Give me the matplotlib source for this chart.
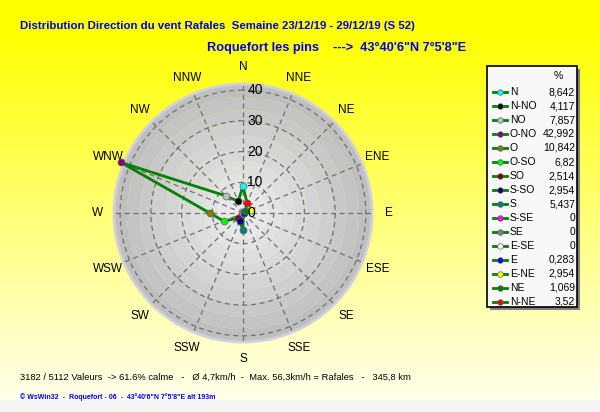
"""
Wind direction distribution (gusts), week 52 - Roquefort les pins.
Output: out.png (600x412)
"""
import numpy as np
import matplotlib
matplotlib.use("Agg")
import matplotlib.pyplot as plt
from matplotlib.patches import Rectangle
from matplotlib.lines import Line2D

# --- data -------------------------------------------------------------
directions = ["N", "N-NO", "NO", "O-NO", "O", "O-SO", "SO", "S-SO",
              "S", "S-SE", "SE", "E-SE", "E", "E-NE", "NE", "N-NE"]
percent = [8.642, 4.117, 7.857, 42.992, 10.842, 6.82, 2.514, 2.954,
           5.437, 0, 0, 0, 0.283, 2.954, 1.069, 3.52]
marker_colors = ["#00ffff", "#000000", "#c0c0c0", "#800080", "#808000",
                 "#00ff00", "#800000", "#000080", "#008080", "#ff00ff",
                 "#808080", "#ffffff", "#0000ff", "#ffff00", "#008000",
                 "#ff0000"]
compass_labels = ["N", "NNW", "NW", "WNW", "W", "WSW", "SW", "SSW",
                  "S", "SSE", "SE", "ESE", "E", "ENE", "NE", "NNE"]
ring_values = [0, 10, 20, 30, 40]

title = "Distribution Direction du vent Rafales  Semaine 23/12/19 - 29/12/19 (S 52)"
subtitle = "Roquefort les pins    --->  43°40'6\"N 7°5'8\"E"
summary = ("3182 / 5112 Valeurs  -> 61.6% calme   -   Ø 4,7km/h  -  "
           "Max. 56,3km/h = Rafales   -   345,8 km")
footer = "© WsWin32  -  Roquefort - 06  -  43°40'6\"N 7°5'8\"E alt 193m"

RMAX = 42.0
W, H = 600, 412

fig = plt.figure(figsize=(6.0, 4.12), dpi=100)
renderer = fig.canvas.get_renderer()


def fit_width(txt, target_px):
    # shrink/grow a text so it spans roughly the same width as the original
    w = txt.get_window_extent(renderer=renderer).width
    txt.set_fontsize(txt.get_fontsize() * target_px / w)


# background axes in pixel coordinates
bg = fig.add_axes([0, 0, 1, 1])
bg.set_xlim(0, W)
bg.set_ylim(H, 0)
bg.axis("off")

grad = np.ones((H, 1, 3))
yy = np.arange(H)
frac = np.clip((yy - 30) / 370.0, 0, 1)
grad[:, 0, 2] = frac * 0.93
grad[yy >= 400] = [0.957, 0.957, 0.957]
bg.imshow(grad, extent=(0, W, H, 0), aspect="auto", zorder=0)

t1 = bg.text(20, 26, title, color="#0000e6", fontsize=11, fontweight="bold",
             family="Liberation Sans", va="center")
fit_width(t1, 395)
t2 = bg.text(207, 48, subtitle, color="#0000e6", fontsize=11,
             fontweight="bold", family="Liberation Sans", va="center")
fit_width(t2, 261)
t3 = bg.text(20, 377, summary, color="black", fontsize=8.5,
             family="Liberation Sans", va="center")
fit_width(t3, 389)
t4 = bg.text(20, 397, footer, color="#0000ff", fontsize=6, fontweight="bold",
             family="Liberation Sans", va="center")
fit_width(t4, 197)

# legend box
bg.add_patch(Rectangle((490, 69), 90, 241, facecolor="#808080",
                       edgecolor="none", zorder=2))
bg.add_patch(Rectangle((487, 66), 90, 241, facecolor="#f8f8f8",
                       edgecolor="black", linewidth=1.2, zorder=3))
bg.text(558, 76, "%", fontsize=7.5, family="Liberation Sans",
        ha="center", va="center", zorder=4)
for i, (name, val, col) in enumerate(zip(directions, percent, marker_colors)):
    y = 92 + i * 14
    bg.add_line(Line2D([493, 507], [y, y], color="#008000", linewidth=2,
                       zorder=4))
    bg.plot(500, y, "o", markersize=4, markerfacecolor=col,
            markeredgecolor="#606060", markeredgewidth=0.5, zorder=5)
    bg.text(510, y, name, fontsize=7.5, family="Liberation Sans",
            va="center", zorder=5)
    bg.text(575, y, f"{val:g}".replace(".", ","), fontsize=7.5,
            family="Liberation Sans", va="center", ha="right", zorder=5)

# polar chart
cx, cy, rad = 243, 213, 129
ax = fig.add_axes([(cx - rad) / W, (H - cy - rad) / H, 2 * rad / W, 2 * rad / H],
                  projection="polar")
ax.set_theta_zero_location("N")
ax.set_theta_direction(1)
ax.set_ylim(0, RMAX)
ax.patch.set_alpha(0)
ax.spines["polar"].set_color("#d0d0dc")
ax.spines["polar"].set_linewidth(2)

n_bands = 10
edges = np.linspace(0, RMAX, n_bands + 1)
for k in range(n_bands):
    t = k / (n_bands - 1)
    g = 0.93 - 0.18 * t
    ax.bar(0, edges[k + 1] - edges[k], width=2 * np.pi, bottom=edges[k],
           color=(g, g, g), edgecolor="none", align="center", zorder=0)

ax.set_rticks([10, 20, 30, 40])
ax.set_yticklabels([])
ax.set_thetagrids(np.arange(0, 360, 22.5), labels=[""] * 16)
ax.grid(True, color="#707070", linestyle=(0, (4, 3)), linewidth=0.9)
ax.set_axisbelow(False)

theta = np.deg2rad(np.arange(16) * 22.5)
t_closed = np.append(theta, theta[0])
r_closed = np.append(percent, percent[0])
ax.plot(t_closed, r_closed, color="#008000", linewidth=2, zorder=3,
        clip_on=False)
for t, r, c in zip(theta, percent, marker_colors):
    ax.plot(t, r, "o", markersize=5, markerfacecolor=c,
            markeredgecolor="#606060", markeredgewidth=0.5, zorder=4,
            clip_on=False)

for v in ring_values:
    ax.annotate(str(v), xy=(0, v), xytext=(3, 0), textcoords="offset points",
                fontsize=10, family="Liberation Sans", ha="left",
                va="center", zorder=5)

for t, lab in zip(theta, compass_labels):
    ax.text(t, RMAX * 1.13, lab, fontsize=8.5, family="Liberation Sans",
            ha="center", va="center", clip_on=False)

fig.savefig("out.png", dpi=100)
